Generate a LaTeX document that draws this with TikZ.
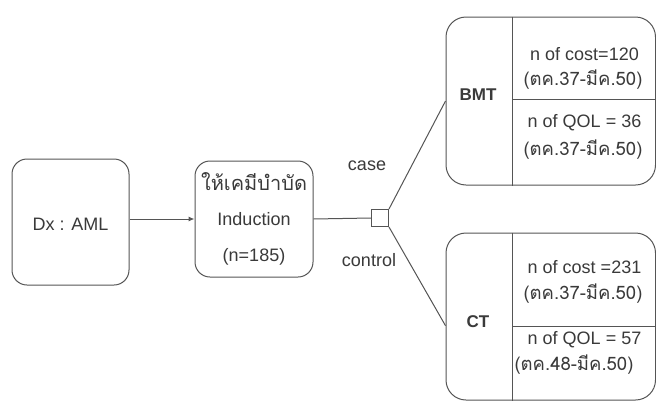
\documentclass[tikz,border=0pt]{standalone}
\usepackage{fontspec}
\setmainfont{Liberation Sans}
\newfontfamily\thai[Script=Thai]{Loma}
\usetikzlibrary{arrows.meta}
\definecolor{ln}{HTML}{555555}
\definecolor{tx}{HTML}{3a3a3a}
\begin{document}
\begin{tikzpicture}[x=1pt,y=-1pt,
  every node/.style={font=\fontsize{18}{20}\selectfont, text=tx},
  box/.style={draw=ln, line width=1pt, fill=white, rounded corners=15pt, inner sep=0pt},
  rbox/.style={draw=ln, line width=1pt, fill=white, rounded corners=20pt, inner sep=0pt, minimum width=209.5pt, minimum height=168pt},
  txt/.style={inner sep=0pt, anchor=center},
  thtxt/.style={inner sep=0pt, anchor=center, font=\thai\fontsize{18.5}{20}\selectfont},
  lbl/.style={inner sep=0pt, anchor=center, font=\fontsize{18}{20}\selectfont},
  conn/.style={draw=ln, line width=1pt},
  arr/.style={conn, -{Latex[length=6pt,width=5pt]}},
  div/.style={draw=ln, line width=1pt}
]
\useasboundingbox (0,0) rectangle (656,410);
\fill[white] (0,0) rectangle (656,410);

% left boxes
\node[box, minimum width=117pt, minimum height=126pt] (dx) at (70.5,222) {};
\node[txt] (dxt) at (70.5,224) {Dx : AML};
\node[box, minimum width=118pt, minimum height=116pt] (ind) at (254,219) {};
\node[txt, font=\thai\fontsize{20}{22}\selectfont] (t1) at (254,182) {ให้เคมีบำบัด};
\node[txt] (t2) at (254,219) {Induction};
\node[txt] (t3) at (254,257) {(n=185)};

% junction
\node[draw=ln, line width=1pt, fill=white, minimum size=17pt, inner sep=0pt] (jn) at (380,218) {};

% right boxes
\node[rbox] (bmt) at (550.75,101) {};
\draw[div] ([xshift=67pt]bmt.north west) -- ([xshift=67pt]bmt.south west);
\draw[div] ([xshift=67pt,yshift=2pt]bmt.west) -- ([yshift=2pt]bmt.east);
\node[txt, font=\bfseries\fontsize{17}{20}\selectfont] (bmtl) at (478,95) {BMT};
\node[txt] (b1) at (584.5,54) {n of cost=120};
\node[thtxt] (b2) at (583,80) {(ตค.37-มีค.50)};
\node[txt] (b3) at (584.5,123) {n of QOL = 36};
\node[thtxt] (b4) at (583,150) {(ตค.37-มีค.50)};

\node[rbox, minimum height=167pt] (ct) at (550.75,316.5) {};
\draw[div] ([xshift=67pt]ct.north west) -- ([xshift=67pt]ct.south west);
\draw[div] ([xshift=67pt,yshift=-9.5pt]ct.west) -- ([yshift=-9.5pt]ct.east);
\node[txt, font=\bfseries\fontsize{17}{20}\selectfont] (ctl) at (478,322) {CT};
\node[txt] (c1) at (584.5,267) {n of cost =231};
\node[thtxt] (c2) at (583,294) {(ตค.37-มีค.50)};
\node[txt] (c3) at (584.5,340) {n of QOL = 57};
\node[thtxt] (c4) at (574,365) {(ตค.48-มีค.50)};

% connectors
\draw[arr] (dx.east |- ind.west) -- (ind.west);
\draw[conn] (ind.east) -- (jn.west);
\draw[conn] (jn.north east) -- (bmt.west);
\draw[conn] (jn.south east) -- (ct.185);

% labels
\node[lbl] (case) at (367,166) {case};
\node[lbl] (control) at (369,260) {control};
\end{tikzpicture}
\end{document}
